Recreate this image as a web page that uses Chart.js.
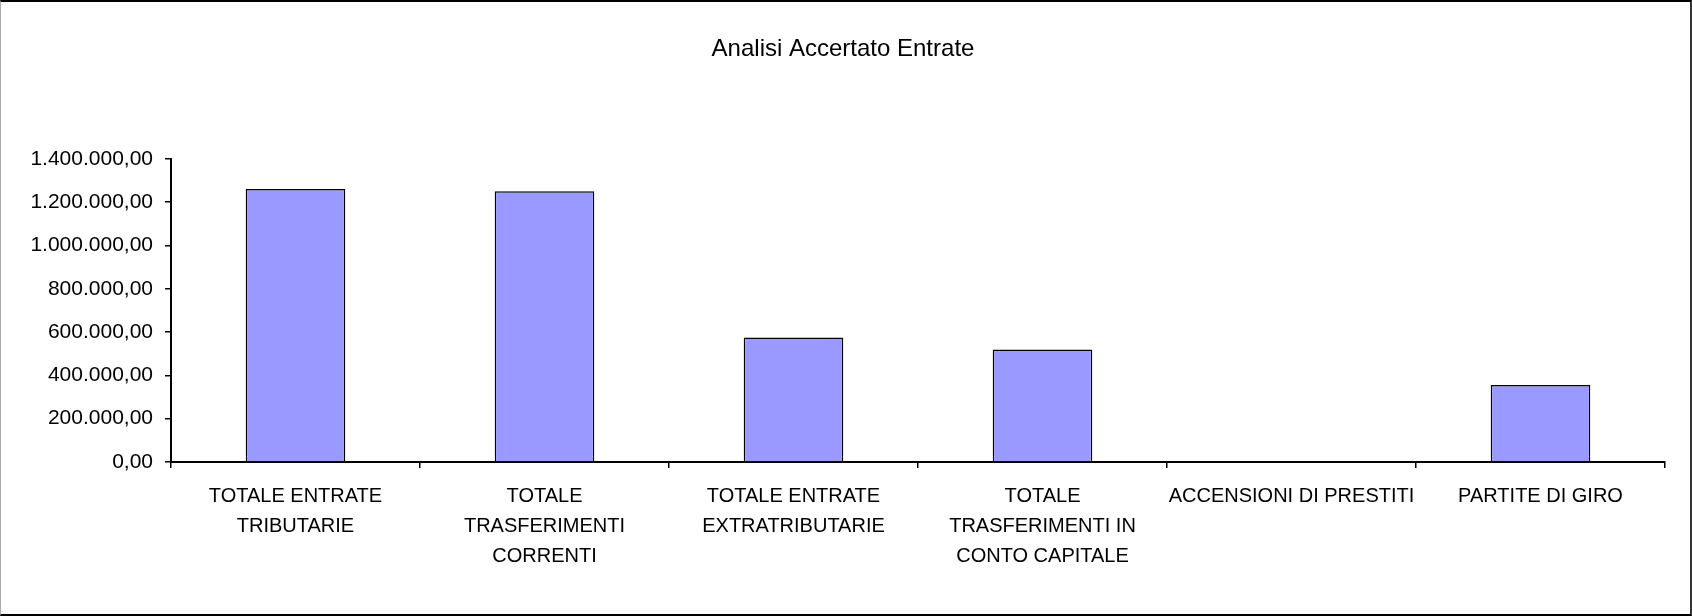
<!DOCTYPE html>
<html>
<head>
<meta charset="utf-8">
<script src="https://cdn.jsdelivr.net/npm/chart.js@4"></script>
<style>
  html, body { margin: 0; padding: 0; background: #fff; }
  #wrap {
    position: absolute; left: 0; top: 0;
    width: 1692px; height: 616px; box-sizing: border-box;
    border-top: 2px solid #000; border-right: 2px solid #333;
    border-bottom: 2px solid #000; border-left: 1px solid #aaa;
  }
  #wrap canvas { position: absolute; left: -1px; top: -2px; }
</style>
</head>
<body>
<div id="wrap"><canvas id="chart" width="1692" height="616"></canvas></div>
<script>
// dati
const categorie = [
  ["TOTALE ENTRATE", "TRIBUTARIE"],
  ["TOTALE", "TRASFERIMENTI", "CORRENTI"],
  ["TOTALE ENTRATE", "EXTRATRIBUTARIE"],
  ["TOTALE", "TRASFERIMENTI IN", "CONTO CAPITALE"],
  "ACCENSIONI DI PRESTITI",
  "PARTITE DI GIRO"
];
const accertato = [1261000, 1250000, 575000, 520000, 0, 356000];
const tickValori = [0, 200000, 400000, 600000, 800000, 1000000, 1200000, 1400000];
const tickEtichette = ["0,00", "200.000,00", "400.000,00", "600.000,00", "800.000,00", "1.000.000,00", "1.200.000,00", "1.400.000,00"];

Chart.defaults.font.family = "'Liberation Sans', Arial, sans-serif";
Chart.defaults.color = "#000";

const ctx = document.getElementById("chart").getContext("2d");

new Chart(ctx, {
  type: "bar",
  data: {
    labels: categorie,
    datasets: [
      {
        data: accertato,
        backgroundColor: "#9999ff",
        borderColor: "#000",
        borderWidth: 1.5,
        categoryPercentage: 1,
        barPercentage: 0.4
      }
    ]
  },
  options: {
    responsive: false,
    animation: false,
    layout: { padding: { left: 21, right: 27, top: 0, bottom: 32 } },
    plugins: {
      legend: { display: false },
      tooltip: { enabled: false },
      title: {
        display: true,
        text: "Analisi Accertato Entrate",
        font: { size: 24, weight: "normal" },
        color: "#000",
        padding: { top: 35, bottom: 95 }
      }
    },
    scales: {
      x: {
        offset: true,
        grid: { offset: true, drawOnChartArea: false, color: "#000", lineWidth: 1.5, tickLength: 6 },
        border: { color: "#000", width: 2 },
        ticks: {
          autoSkip: false,
          maxRotation: 0,
          minRotation: 0,
          padding: 13,
          font: { size: 20, lineHeight: 1.5 },
          color: "#000"
        }
      },
      y: {
        min: 0,
        max: 1400000,
        afterFit: function (scale) { scale.width = 150; },
        afterBuildTicks: function (scale) {
          scale.ticks = tickValori.map(v => ({ value: v }));
        },
        grid: { drawOnChartArea: false, color: "#000", lineWidth: 1.5, tickLength: 6 },
        border: { color: "#000", width: 2 },
        ticks: {
          padding: 12,
          font: { size: 21 },
          color: "#000",
          callback: function (value) {
            const i = tickValori.indexOf(value);
            return i >= 0 ? tickEtichette[i] : "";
          }
        }
      }
    }
  }
});
</script>
</body>
</html>
